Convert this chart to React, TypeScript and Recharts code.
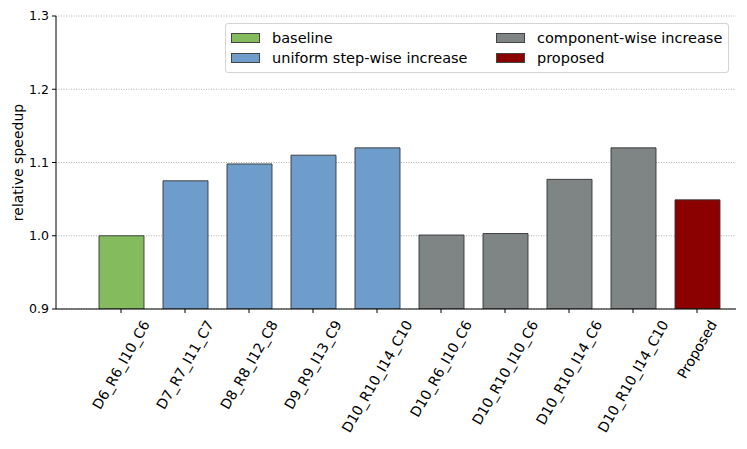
import { Bar, BarChart, CartesianGrid, Cell, XAxis, YAxis } from "recharts";

const categories = [
  "D6_R6_I10_C6",
  "D7_R7_I11_C7",
  "D8_R8_I12_C8",
  "D9_R9_I13_C9",
  "D10_R10_I14_C10",
  "D10_R6_I10_C6",
  "D10_R10_I10_C6",
  "D10_R10_I14_C6",
  "D10_R10_I14_C10",
  "Proposed"
];
const speedups = [1.0, 1.075, 1.098, 1.11, 1.12, 1.001, 1.003, 1.077, 1.12, 1.049];
const groups = [0, 1, 1, 1, 1, 2, 2, 2, 2, 3];
const groupNames = ["baseline", "uniform step-wise increase", "component-wise increase", "proposed"];
const groupColors = ["#84bb5c", "#6f9dcb", "#7f8584", "#8b0000"];
const yTicks = [0.9, 1.0, 1.1, 1.2, 1.3];

const FONT = "'DejaVu Sans', sans-serif";
const TICK_PX = 14;

const chartData = categories.map((name, i) => ({ name, value: speedups[i], group: groups[i] }));

let ctx: CanvasRenderingContext2D | null = null;
function textWidth(s: string) {
  if (!ctx) ctx = document.createElement("canvas").getContext("2d");
  if (!ctx) return s.length * 8.4;
  ctx.font = `${TICK_PX}px ${FONT}`;
  return ctx.measureText(s).width;
}

// matplotlib-style rotation=60, ha='center': the rotated bbox is centred under the tick
function RotatedTick(props: any) {
  const { x, y, payload } = props;
  const w = textWidth(payload.value);
  const h = TICK_PX;
  const rad = Math.PI / 3;
  const bboxH = w * Math.sin(rad) + h * Math.cos(rad);
  const cy = y + 1 + bboxH / 2;
  return (
    <text
      transform={`translate(${x},${cy}) rotate(-60)`}
      textAnchor="middle"
      dominantBaseline="central"
      fontSize={TICK_PX}
      fontFamily={FONT}
      fill="#000"
    >
      {payload.value}
    </text>
  );
}

function LegendBox() {
  const order = [0, 2, 1, 3];
  return (
    <div
      style={{
        position: "absolute",
        left: 225,
        top: 23,
        width: 504,
        height: 50,
        border: "1px solid #d4d4d4",
        borderRadius: 3,
        background: "rgba(255,255,255,0.8)",
        display: "grid",
        gridTemplateColumns: "265px 1fr",
        gridTemplateRows: "20px 20px",
        padding: "4px 0 0 5px",
        boxSizing: "border-box",
        fontFamily: FONT,
        fontSize: 14.5,
        color: "#000"
      }}
    >
      {order.map((g) => (
        <div key={g} style={{ display: "flex", alignItems: "center", gridColumn: g >= 2 ? 2 : 1 }}>
          <span
            style={{
              display: "inline-block",
              width: 29,
              height: 10,
              background: groupColors[g],
              border: "1px solid #444",
              boxSizing: "border-box",
              marginRight: 12
            }}
          />
          <span>{groupNames[g]}</span>
        </div>
      ))}
    </div>
  );
}

export default function App() {
  return (
    <div style={{ position: "absolute", left: 0, top: 0, width: 747, height: 449, background: "#fff" }}>
      <BarChart
        width={747}
        height={449}
        data={chartData}
        margin={{ top: 16, right: 11, left: 0, bottom: 0 }}
        barSize={45}
      >
        <CartesianGrid vertical={false} stroke="#b0b0b0" strokeDasharray="1 1.5" />
        <XAxis
          dataKey="name"
          height={140}
          interval={0}
          padding={{ left: 33, right: 7 }}
          axisLine={{ stroke: "#000" }}
          tickLine={{ stroke: "#000" }}
          tickSize={4}
          tickMargin={4}
          tick={<RotatedTick />}
        />
        <XAxis
          xAxisId="top"
          dataKey="name"
          orientation="top"
          height={0}
          padding={{ left: 33, right: 7 }}
          tick={false}
          tickLine={false}
          axisLine={{ stroke: "#000" }}
        />
        <YAxis
          type="number"
          domain={[0.9, 1.3]}
          ticks={yTicks}
          allowDataOverflow
          width={56}
          axisLine={{ stroke: "#000" }}
          tickLine={{ stroke: "#000" }}
          tickSize={4}
          tickMargin={3}
          tick={{ fontSize: 12.5, fontFamily: FONT, fill: "#000" }}
          tickFormatter={(v: number) => v.toFixed(1)}
          label={{
            content: () => (
              <text
                transform="translate(18,162.5) rotate(-90)"
                textAnchor="middle"
                dominantBaseline="central"
                fontSize={14}
                fontFamily={FONT}
                fill="#000"
              >
                relative speedup
              </text>
            )
          }}
        />
        <YAxis
          yAxisId="right"
          orientation="right"
          type="number"
          domain={[0.9, 1.3]}
          width={0}
          tick={false}
          tickLine={false}
          axisLine={{ stroke: "#000" }}
        />
        <Bar dataKey="value" isAnimationActive={false} stroke="#333" strokeWidth={0.9}>
          {chartData.map((d, i) => (
            <Cell key={i} fill={groupColors[d.group]} />
          ))}
        </Bar>
      </BarChart>
      <LegendBox />
    </div>
  );
}
